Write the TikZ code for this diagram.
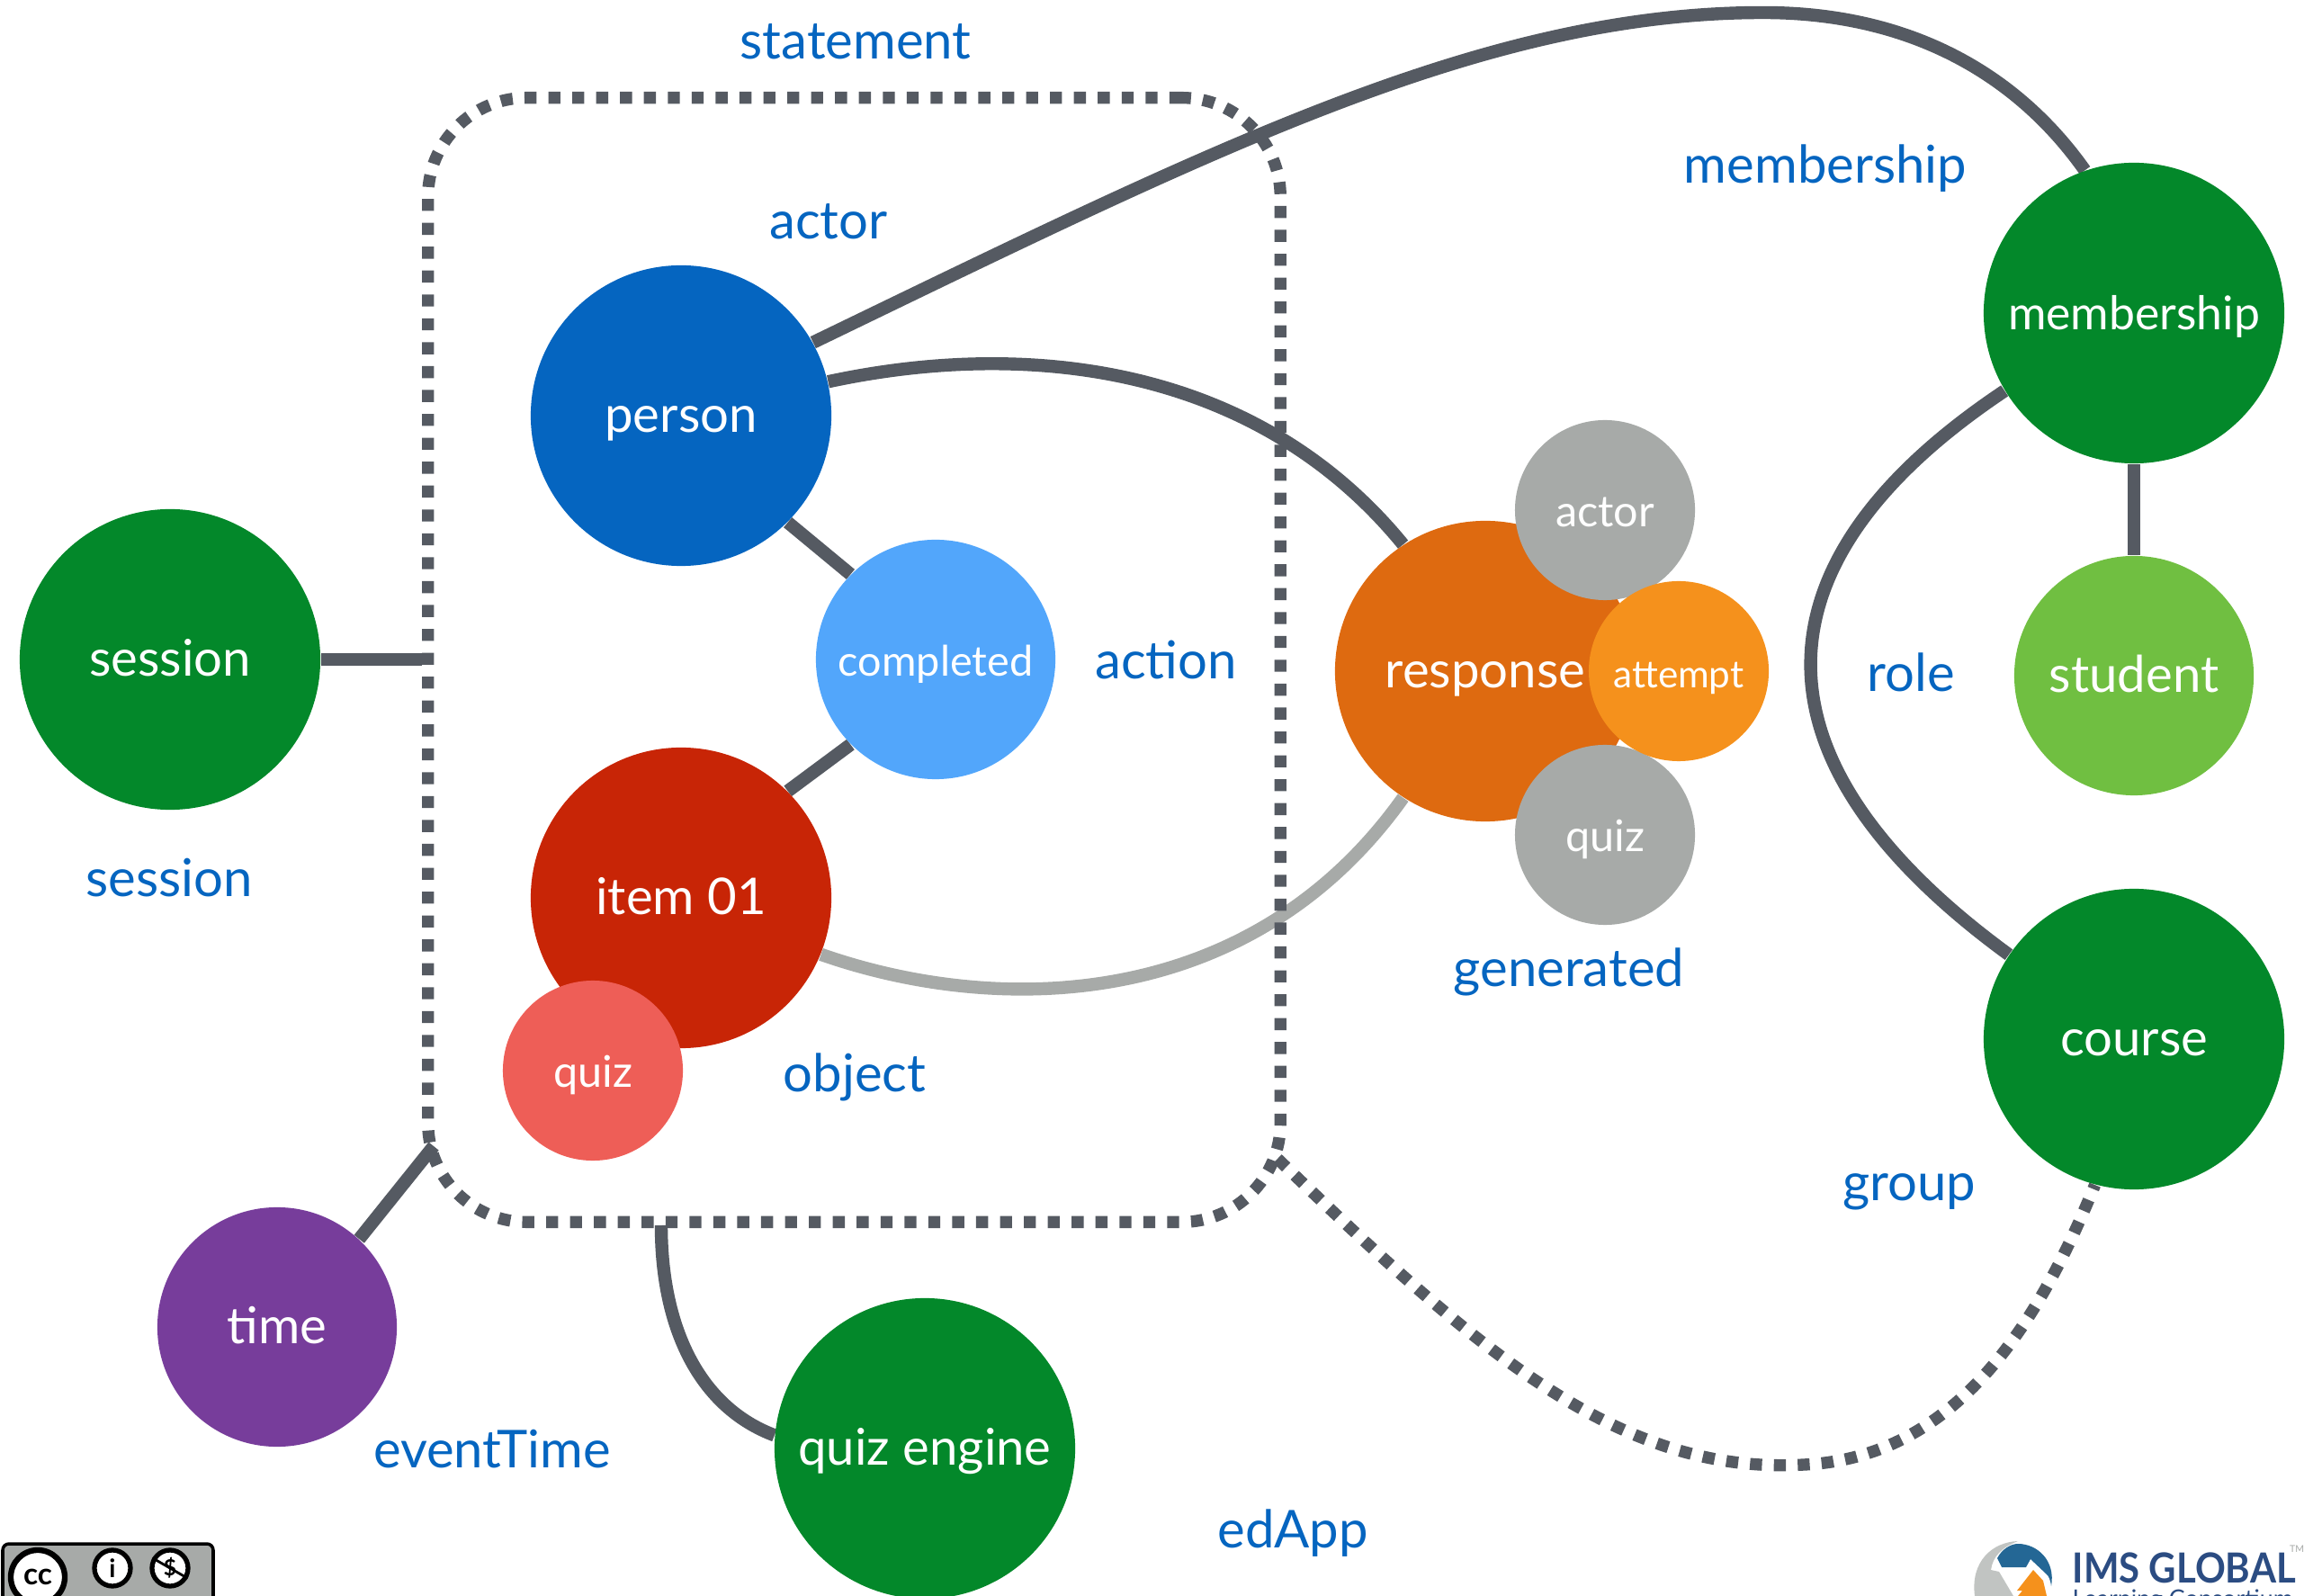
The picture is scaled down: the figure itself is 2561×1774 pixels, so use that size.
\documentclass[tikz,border=0pt]{standalone}
\usepackage{graphicx}
\usepackage{fontspec}
\setmainfont{Lato}
\usetikzlibrary{backgrounds}
\definecolor{linegray}{HTML}{555A62}
\definecolor{lightline}{HTML}{A7AAA8}
\definecolor{labelblue}{HTML}{0565C0}
\definecolor{dotgreen}{HTML}{03882A}
\definecolor{dotblue}{HTML}{0565C0}
\definecolor{skyblue}{HTML}{52A6FB}
\definecolor{dotred}{HTML}{C82506}
\definecolor{salmon}{HTML}{EE5E57}
\definecolor{dotpurple}{HTML}{773D9B}
\definecolor{dotorange}{HTML}{DE6A10}
\definecolor{lightorange}{HTML}{F5911C}
\definecolor{lime}{HTML}{70BF41}
\definecolor{imsblue}{HTML}{2B4C82}
\tikzset{
  dot/.style={circle, inner sep=0pt, text=white, text height=1.04em, text depth=0pt},
  bigdot/.style={dot, minimum size=3.34cm, font=\fontsize{16}{18}\selectfont},
  middot/.style={dot, minimum size=2.66cm, font=\fontsize{16}{18}\selectfont},
  smalldot/.style={dot, minimum size=2cm, font=\fontsize{13.8}{16}\selectfont},
  link/.style={draw=linegray, line width=4.1pt},
  dotlink/.style={link, line width=3.8pt, dash pattern=on 3.8pt off 3.75pt},
  tag/.style={text=labelblue, font=\fontsize{16.5}{19}\selectfont, inner sep=0pt, text height=1.04em, text depth=0pt},
}
\begin{document}
\begin{tikzpicture}[x=0.01cm, y=-0.01cm]
  \useasboundingbox (0,0) rectangle (2561,1774);

  % statement box
  \node[dotlink, rounded corners=1.1cm, minimum width=9.47cm, minimum height=12.49cm, inner sep=0pt] (statementbox) at (949.5,733.5) {};

  % left side
  \node[bigdot, fill=dotgreen] (session) at (189,733) {session};
  \node[middot, fill=dotpurple] (time) at (308,1475) {time};
  \node[bigdot, fill=dotgreen] (engine) at (1028,1610) {quiz engine};

  % inside the box
  \node[bigdot, fill=dotblue] (person) at (757,462) {person};
  \node[middot, fill=skyblue, font=\fontsize{13.3}{15}\selectfont] (completed) at (1040,733) {completed};
  \node[bigdot, fill=dotred] (item) at (757,998) {item 01};
  \node[smalldot, fill=salmon] (itemquiz) at (659,1190) {quiz};

  % generated
  \node[bigdot, fill=dotorange] (response) at (1651,746) {response};
  \node[smalldot, fill=lightline] (responseactor) at (1784,567) {actor};
  \node[smalldot, fill=lightline] (responsequiz) at (1784,928) {quiz};
  \node[smalldot, fill=lightorange, font=\fontsize{12}{14}\selectfont] (attempt) at (1866,746) {attempt};

  % right side
  \node[bigdot, fill=dotgreen, font=\fontsize{14.7}{17}\selectfont] (membership) at (2372,348) {membership};
  \node[middot, fill=lime] (student) at (2372,751) {student};
  \node[bigdot, fill=dotgreen] (course) at (2372,1155) {course};

  % labels
  \node[tag] (statementtag) at (951,47) {statement};
  \node[tag] (actortag) at (921,247) {actor};
  \node[tag] (membershiptag) at (2029,185) {membership};
  \node[tag] (actiontag) at (1296,736) {action};
  \node[tag] (roletag) at (2124,750) {role};
  \node[tag] (sessiontag) at (188,978) {session};
  \node[tag] (objecttag) at (950,1195) {object};
  \node[tag] (generatedtag) at (1744,1078) {generated};
  \node[tag] (grouptag) at (2122,1316) {group};
  \node[tag] (timetag) at (547,1613) {eventTime};
  \node[tag] (edapptag) at (1437,1702) {edApp};

  % free ends on the box
  \coordinate (timeend) at (482,1274);
  \coordinate (engineend) at (735,1362);
  \coordinate (groupend) at (1420,1288);

  \begin{pgfonlayer}{background}
    \draw[link] (session.east) -- (session.east -| statementbox.west);
    \draw[link] (time.47) -- (timeend);
    \draw[link] (engine.175) .. controls (780,1565) and (735,1480) .. (engineend);
    \draw[link] (person.-45) -- (completed.135);
    \draw[link] (item.45) -- (completed.-135);
    \draw[link] (person.13) .. controls (1150,375) and (1400,410) .. (response.123);
    \draw[draw=lightline, line width=4.1pt] (item.-22) .. controls (1110,1130) and (1390,1125) .. (response.-123);
    \draw[link] (person.29) .. controls (1350,165) and (1650,14) .. (1960,14) .. controls (2120,14) and (2240,80) .. (membership.109);
    \draw[link] (membership.-149) .. controls (1950,620) and (1930,840) .. (course.146);
    \draw[link] (membership) -- (student);
    \draw[dotlink] (groupend) .. controls (1640,1500) and (1800,1640) .. (2005,1628) .. controls (2180,1620) and (2270,1460) .. (course.-105);
  \end{pgfonlayer}

  \begin{scope}
    \clip (0,1700) rectangle (2561,1774);
    % licence badge
    \draw[black, fill=lightline, line width=1pt, rounded corners=2pt] (3,1716) rectangle (237,1790);
    \node[circle, draw=black, fill=white, line width=1.8pt, minimum size=0.6cm, inner sep=0pt, font=\bfseries\fontsize{9.5}{9}\selectfont] (ccmark) at (42,1753) {cc};
    \node[circle, draw=black, fill=white, line width=1.5pt, minimum size=0.4cm, inner sep=0pt, font=\bfseries\fontsize{8}{8}\selectfont] (bymark) at (125,1743) {i};
    \node[circle, draw=black, fill=white, line width=1.5pt, minimum size=0.4cm, inner sep=0pt, font=\bfseries\fontsize{7}{7}\selectfont] (ncmark) at (189,1743) {\$};
    \draw[black, line width=0.8pt] (ncmark.150) -- (ncmark.-30);

    % logo
    \fill[lightline!70] (2195,1774) .. controls (2190,1735) and (2215,1714) .. (2243,1713) .. controls (2225,1720) and (2215,1730) .. (2213,1745) -- (2222,1747) -- (2238,1774) -- cycle;
    \fill[imsblue!85!cyan] (2220,1732) .. controls (2225,1722) and (2235,1716) .. (2243,1716) .. controls (2265,1716) and (2285,1735) .. (2280,1763) .. controls (2279,1755) and (2277,1752) .. (2275,1750) -- (2257,1733) -- (2252,1742) -- (2225,1742) -- cycle;
    \fill[lightorange] (2260,1745) -- (2242,1768) -- (2248,1768) -- (2243,1774) -- (2275,1774) -- (2271,1757) -- cycle;
    \node[text=imsblue, font=\bfseries\fontsize{12.6}{14}\selectfont, anchor=base west, inner sep=0pt] (imstext) at (2303,1759) {\resizebox{2.48cm}{!}{\scalebox{1}[1.1]{IMS GLOBAL}}};
    \node[text=imsblue, font=\fontsize{7}{9}\selectfont, anchor=base west, inner sep=0pt] (imssub) at (2303,1786) {\resizebox{2.45cm}{!}{Learning Consortium}};
    \node[text=lightline, font=\fontsize{3}{3}\selectfont, inner sep=0pt] (imstm) at (2553,1722) {TM};
  \end{scope}
\end{tikzpicture}
\end{document}
